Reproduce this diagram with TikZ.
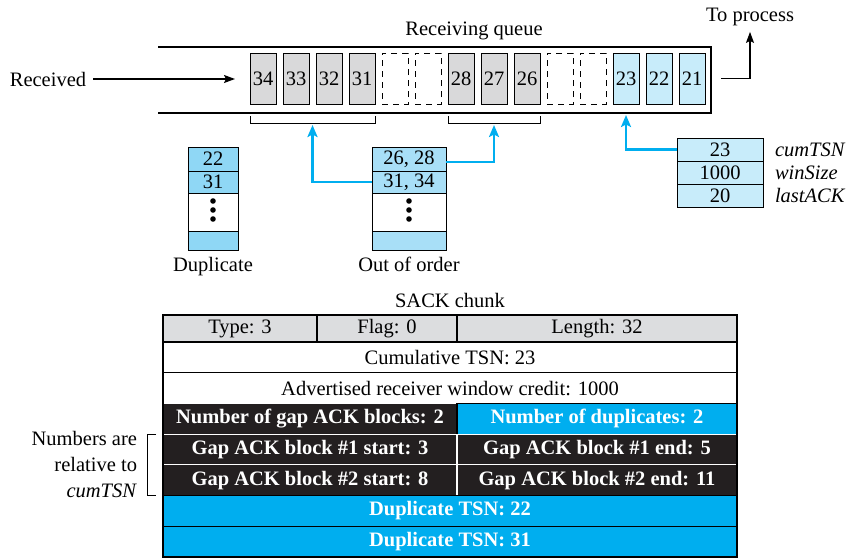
\documentclass[tikz,border=0pt]{standalone}
\usepackage{fontspec}
\setmainfont{Liberation Serif}
\usetikzlibrary{arrows.meta, positioning, calc}

\definecolor{cellgray}{RGB}{217,217,218}
\definecolor{hdrgray}{RGB}{220,221,223}
\definecolor{nextblue}{RGB}{200,236,250}
\definecolor{dupblue}{RGB}{143,215,245}
\definecolor{oooblue}{RGB}{168,223,247}
\definecolor{sackblue}{RGB}{0,174,239}
\definecolor{sackdark}{RGB}{35,31,32}

\newcommand{\basefont}{\fontsize{20.5}{24}\selectfont}
\newcommand{\notefont}{\fontsize{20.5}{26}\selectfont}

\tikzset{
  qcell/.style={draw, line width=1pt, minimum width=26pt, minimum height=51pt, inner sep=0pt},
  oldcell/.style={qcell, fill=cellgray},
  nextcell/.style={qcell, fill=nextblue},
  gapcell/.style={qcell, dash pattern=on 6pt off 5pt},
  stackrow/.style={draw, line width=1pt, minimum width=50pt, inner sep=0pt},
  duprow/.style={stackrow, fill=dupblue},
  ooorow/.style={stackrow, minimum width=74pt, fill=oooblue},
  staterow/.style={draw, line width=1pt, minimum width=86pt, minimum height=23pt, inner sep=0pt, fill=nextblue},
  chunkrow/.style={draw, line width=1.2pt, minimum height=30.7pt, inner sep=0pt},
  hdrfield/.style={chunkrow, fill=hdrgray, minimum height=27pt},
  darkfield/.style={chunkrow, draw=white, fill=sackdark, text=white, font=\basefont\bfseries},
  bluefield/.style={chunkrow, fill=sackblue, text=white, font=\basefont\bfseries},
  blackarrow/.style={line width=1.3pt, -{Stealth[length=11pt, width=8pt, inset=2pt]}},
  bluearrow/.style={draw=sackblue, line width=2.5pt, -{Stealth[length=12pt, width=10pt, inset=2.5pt]}},
}

\begin{document}
\begin{tikzpicture}[x=1pt, y=-1pt, font=\basefont, inner sep=2pt, outer sep=0pt, node distance=0pt]
  \useasboundingbox (0,0) rectangle (851,557);

  % receiving queue
  \draw[line width=1.6pt] (158,47) -- (711,47) -- (711,113) -- (158,113);
  \node (qlabel) at (474,31) {Receiving queue};
  \foreach \i/\n/\s in {0/34/oldcell, 1/33/oldcell, 2/32/oldcell, 3/31/oldcell,
      4//gapcell, 5//gapcell, 6/28/oldcell, 7/27/oldcell, 8/26/oldcell,
      9//gapcell, 10//gapcell, 11/23/nextcell, 12/22/nextcell, 13/21/nextcell}
    \node[\s] (c\i) at ({263+33*\i},78.5) {\n};

  \node (recv) at (48,79) {Received};
  \draw[blackarrow, shorten <=5pt, shorten >=15pt] (recv.east) -- (recv.east -| c0.west);
  \node (toproc) at (750,17) {To process};
  \draw[blackarrow, shorten >=4pt] ([xshift=16pt]c13.east) -| (toproc.south);

  % brackets under the queue
  \draw[line width=1pt] ([yshift=-12pt]c0.south west) -- ([yshift=-19pt]c0.south west)
    -- coordinate[midway, yshift=-2pt] (gap1) ([yshift=-19pt]c3.south east) -- ([yshift=-12pt]c3.south east);
  \draw[line width=1pt] ([yshift=-12pt]c6.south west) -- ([yshift=-19pt]c6.south west)
    -- coordinate[midway, yshift=-2pt] (gap2) ([yshift=-19pt]c8.south east) -- ([yshift=-12pt]c8.south east);
  \coordinate (cumin) at ([yshift=-11pt]c11.south);

  % duplicate list
  \node[duprow, minimum height=24pt] (dup1) at (213,159) {22};
  \node[duprow, minimum height=22pt, below=of dup1] (dup2) {31};
  \node[stackrow, minimum height=38pt, below=of dup2] (dup3) {};
  \node[duprow, minimum height=19pt, below=of dup3] (dup4) {};
  \node[below=5pt of dup4] (duplbl) {Duplicate};
  \foreach \d in {-11,-2,7}
    \fill ($(dup3.center)+(0,\d)$) circle (2.8);

  % out of order list
  \node[ooorow, minimum height=24pt] (ooo1) at (409,159) {26, 28};
  \node[ooorow, minimum height=22pt, below=of ooo1] (ooo2) {31, 34};
  \node[stackrow, minimum width=74pt, minimum height=38pt, below=of ooo2] (ooo3) {};
  \node[ooorow, minimum height=19pt, below=of ooo3] (ooo4) {};
  \node[below=5pt of ooo4] (ooolbl) {Out of order};
  \foreach \d in {-11,-2,7}
    \fill ($(ooo3.center)+(0,\d)$) circle (2.8);

  % state variables
  \node[staterow] (cum) at (720,149.5) {23};
  \node[staterow, below=of cum] (win) {1000};
  \node[staterow, below=of win] (last) {20};
  \node[right=10pt of cum, font=\basefont\itshape] (cumlbl) {cumTSN};
  \node[right=10pt of win, font=\basefont\itshape] (winlbl) {winSize};
  \node[right=10pt of last, font=\basefont\itshape] (lastlbl) {lastACK};

  \draw[bluearrow] (ooo2.west) -| (gap1);
  \draw[bluearrow] ([yshift=-3pt]ooo1.east) -| (gap2);
  \draw[bluearrow] (cum.west) -| (cumin);

  % SACK chunk
  \node (title) at (450,300) {SACK chunk};
  \node[hdrfield, minimum width=154pt, anchor=north west] (typ) at (163,315) {Type: 3};
  \node[hdrfield, minimum width=140pt, right=of typ] (flg) {Flag: 0};
  \node[hdrfield, minimum width=280pt, right=of flg] (len) {Length: 32};
  \node[chunkrow, minimum width=574pt, below right=of typ.south west] (cumtsn) {Cumulative TSN: 23};
  \node[chunkrow, minimum width=574pt, below right=of cumtsn.south west] (adv) {Advertised receiver window credit: 1000};
  \node[darkfield, minimum width=294pt, below right=of adv.south west] (ngap) {Number of gap ACK blocks: 2};
  \node[bluefield, minimum width=280pt, right=of ngap] (ndup) {Number of duplicates: 2};
  \node[darkfield, minimum width=294pt, below right=of ngap.south west] (gs1) {Gap ACK block \#1 start: 3};
  \node[darkfield, minimum width=280pt, right=of gs1] (ge1) {Gap ACK block \#1 end: 5};
  \node[darkfield, minimum width=294pt, below right=of gs1.south west] (gs2) {Gap ACK block \#2 start: 8};
  \node[darkfield, minimum width=280pt, right=of gs2] (ge2) {Gap ACK block \#2 end: 11};
  \node[bluefield, minimum width=574pt, below right=of gs2.south west] (dts1) {Duplicate TSN: 22};
  \node[bluefield, minimum width=574pt, below right=of dts1.south west] (dts2) {Duplicate TSN: 31};
  \draw[line width=1.4pt] (typ.north west) rectangle (dts2.south east);

  % note on gap blocks
  \draw[line width=1pt] ([xshift=-7pt]gs1.north west) -- ([xshift=-16pt]gs1.north west)
    -- coordinate[midway, xshift=-8pt] (notept) ([xshift=-16pt]gs2.south west) -- ([xshift=-7pt]gs2.south west);
  \node[anchor=east, align=right, font=\notefont] (note) at (notept) {Numbers are\\relative to\\\textit{cumTSN}};
\end{tikzpicture}
\end{document}
